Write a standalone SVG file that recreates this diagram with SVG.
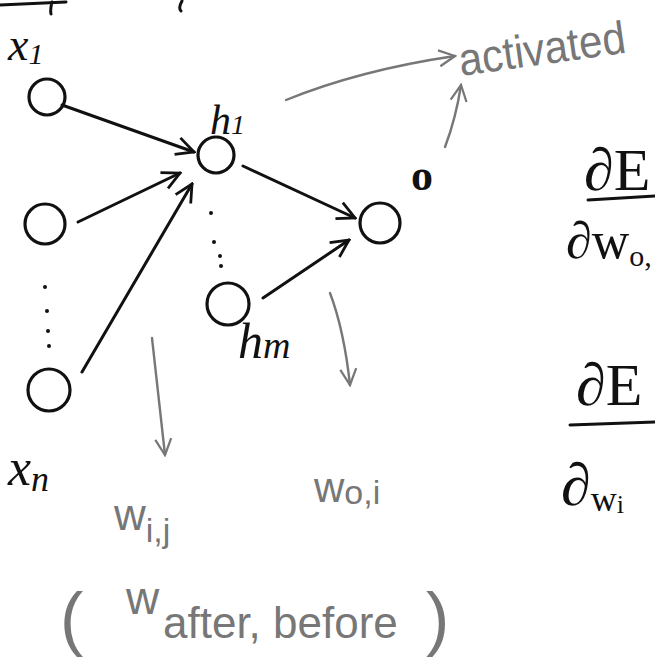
<svg xmlns="http://www.w3.org/2000/svg" width="655" height="659" viewBox="0 0 655 659">
<style>
.n{fill:none;stroke:#111;stroke-width:3.2}
.e{fill:none;stroke:#111;stroke-width:3;stroke-linecap:round}
.g{fill:none;stroke:#777;stroke-width:2.4;stroke-linecap:round}
.dot{fill:#111}
.t{font-family:"Liberation Serif",serif;font-style:italic;fill:#111}
.tg{font-family:"Liberation Sans",sans-serif;fill:#777}
.tm{font-family:"Liberation Serif",serif;fill:#111}
</style>
<defs>
<marker id="ah" viewBox="0 0 12 12" refX="11" refY="6" markerWidth="7" markerHeight="7" markerUnits="strokeWidth" orient="auto">
<path d="M1,1 L11,6 L1,11" fill="none" stroke="#111" stroke-width="1.6"/>
</marker>
<marker id="ahg" viewBox="0 0 12 12" refX="11" refY="6" markerWidth="8" markerHeight="8" markerUnits="strokeWidth" orient="auto">
<path d="M1,1 L11,6 L1,11" fill="none" stroke="#777" stroke-width="1.4"/>
</marker>
</defs>
<rect width="655" height="659" fill="#fff"/>
<path d="M0,5 L66,2 M52,2 Q50,10 51,14" class="e" stroke-width="2.5"/>
<path d="M182,1 Q178,8 181,11" class="e" stroke-width="2"/>
<g id="x1"><circle cx="47" cy="97" r="18" class="n"/><text x="8" y="60" class="t" font-size="46">x<tspan font-size="30" dy="4">1</tspan></text></g>
<g id="x2"><circle cx="45" cy="224" r="20" class="n"/></g>
<g id="xn"><circle cx="49" cy="390" r="21" class="n"/><text x="8" y="485" class="t" font-size="52">x<tspan font-size="36" dy="6">n</tspan></text></g>
<g id="h1"><circle cx="216" cy="155" r="18" class="n"/><text x="210" y="134" class="t" font-size="42">h<tspan font-size="28" dy="0">1</tspan></text></g>
<g id="hm"><circle cx="228" cy="304" r="21" class="n"/><text x="238" y="358" class="t" font-size="50">h<tspan font-size="38" dy="0">m</tspan></text></g>
<g id="o"><circle cx="380" cy="223" r="20" class="n"/><text x="411" y="190" class="tm" font-size="44" font-weight="bold">o</text></g>
<g id="dots">
<circle cx="45" cy="287" r="2" class="dot"/><circle cx="47" cy="311" r="2" class="dot"/><circle cx="48" cy="331" r="2" class="dot"/><circle cx="49" cy="346" r="2" class="dot"/>
<circle cx="211" cy="213" r="2" class="dot"/><circle cx="214" cy="242" r="2" class="dot"/><circle cx="220" cy="256" r="2" class="dot"/><circle cx="221" cy="266" r="2" class="dot"/>
</g>
<g id="connectors">
<line x1="62" y1="105" x2="194" y2="152" class="e" marker-end="url(#ah)"/>
<line x1="78" y1="222" x2="180" y2="173" class="e" marker-end="url(#ah)"/>
<line x1="82" y1="372" x2="192" y2="184" class="e" marker-end="url(#ah)"/>
<line x1="243" y1="166" x2="355" y2="218" class="e" marker-end="url(#ah)"/>
<line x1="263" y1="298" x2="349" y2="240" class="e" marker-end="url(#ah)"/>
<path d="M286,100 Q360,70 455,56" class="g" marker-end="url(#ahg)"/>
<path d="M445,147 Q456,118 461,85" class="g" marker-end="url(#ahg)"/>
<path d="M152,338 L165,455" class="g" marker-end="url(#ahg)"/>
<path d="M330,293 Q344,330 350,385" class="g" marker-end="url(#ahg)"/>
</g>
<g id="labels">
<text x="461" y="76" class="tg" font-size="46" textLength="168" lengthAdjust="spacingAndGlyphs" transform="rotate(-8 461 76)">activated</text>
<text x="114" y="530" class="tg" font-size="44">w<tspan font-size="34" dy="12">i,j</tspan></text>
<text x="314" y="502" class="tg" font-size="42">w<tspan font-size="34" dy="2">o,i</tspan></text>
<text x="60" y="642" class="tg" font-size="70" font-weight="300">(</text>
<text x="126" y="614" class="tg" font-size="46">w</text>
<text x="163" y="638" class="tg" font-size="44">after, before</text>
<text x="426" y="642" class="tg" font-size="70" font-weight="300">)</text>
</g>
<g id="fractions">
<text x="584" y="190" class="tm" font-size="60">∂E</text>
<line x1="588" y1="200" x2="655" y2="196" class="e" stroke-width="3"/>
<text x="566" y="258" class="tm" font-size="52">∂w<tspan font-size="30" dy="8">o,</tspan></text>
<text x="576" y="405" class="tm" font-size="60">∂E</text>
<line x1="570" y1="425" x2="655" y2="422" class="e" stroke-width="3"/>
<text x="561" y="505" class="tm" font-size="60">∂<tspan font-size="36" dy="6">w</tspan><tspan font-size="26" dy="2">i</tspan></text>
</g>
</svg>
